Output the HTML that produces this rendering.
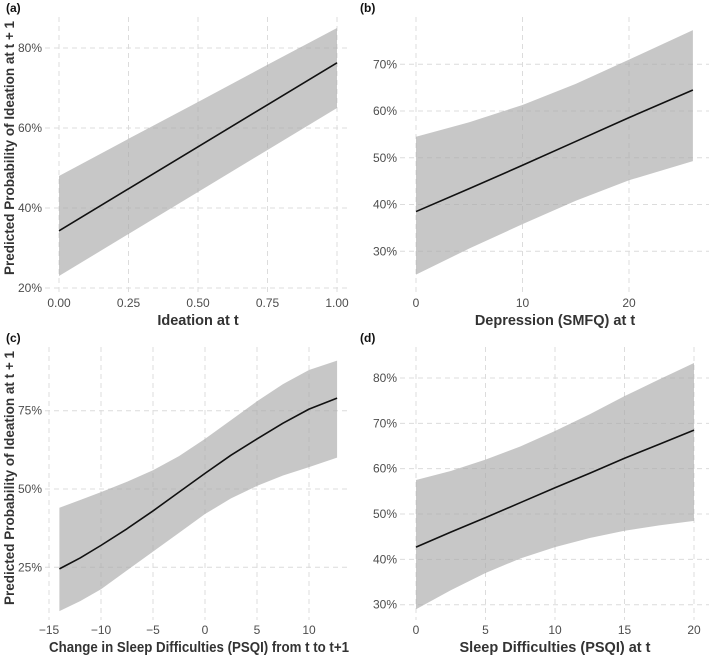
<!DOCTYPE html>
<html><head><meta charset="utf-8"><style>
body{margin:0;background:#fff;font-family:"Liberation Sans",sans-serif}
svg text{font-family:"Liberation Sans",sans-serif}
</style></head><body>
<svg id="c" width="709" height="656" viewBox="0 0 709 656"></svg>
<script>
// Panel (a)
const aX=[0,0.25,0.5,0.75,1];
const aFit=[34.3,44.8,55.3,65.8,76.3];
const aUp=[48,57.3,66.5,75.8,85];
const aLo=[23,33.5,44,54.5,65];
const aXTicks=[0,0.25,0.5,0.75,1];const aXLab=["0.00","0.25","0.50","0.75","1.00"];
const aYTicks=[20,40,60,80];
// Panel (b)
const bX=[0,5,10,15,20,26];
const bFit=[38.5,43.4,48.4,53.5,58.6,64.5];
const bUp=[54.5,57.6,61.3,65.8,71,77.3];
const bLo=[25,30.6,35.8,40.8,45.2,49.3];
const bXTicks=[0,10,20];const bXLab=["0","10","20"];
const bYTicks=[30,40,50,60,70];
// Panel (c)
const cX=[-14,-12,-10,-7.5,-5,-2.5,0,2.5,5,7.5,10,12.7];
const cFit=[24.5,28,32,37.3,43,49,55,60.8,66,71,75.5,79];
const cUp=[44,46.5,49,52.3,56,60.5,66,72,78,83.5,88,91];
const cLo=[11,14.2,18,24,30,36,42,47,51,54.3,57,60];
const cXTicks=[-15,-10,-5,0,5,10];const cXLab=["\u221215","\u221210","\u22125","0","5","10"];
const cYTicks=[25,50,75];
// Panel (d)
const dX=[0,2.5,5,7.5,10,12.5,15,17.5,20];
const dFit=[42.7,46,49.2,52.5,55.8,59,62.3,65.4,68.5];
const dUp=[57.5,59.5,62,64.9,68.3,72,76,79.7,83.3];
const dLo=[29,33.2,37,40.2,42.7,44.7,46.3,47.5,48.5];
const dXTicks=[0,5,10,15,20];const dXLab=["0","5","10","15","20"];
const dYTicks=[30,40,50,60,70,80];

const NS="http://www.w3.org/2000/svg";
const svg=document.getElementById('c');
function mk(tag,attrs,parent){const e=document.createElementNS(NS,tag);for(const k in attrs)e.setAttribute(k,attrs[k]);(parent||svg).appendChild(e);return e;}

function panel(cfg){
  const g=mk('g',{});
  
  
  const sx=v=>cfg.px0+(v-cfg.x0)*(cfg.px1-cfg.px0)/(cfg.x1-cfg.x0);
  const sy=v=>cfg.py0+(v-cfg.y0)*(cfg.py1-cfg.py0)/(cfg.y1-cfg.y0);
  cfg.yT.forEach(t=>{
    const l=mk('line',{x1:cfg.gl,x2:cfg.gr,y1:sy(t),y2:sy(t),stroke:'#dcdcdc','stroke-width':1,'stroke-dasharray':'5,4'},g);
    
    
    const tx=mk('text',{x:cfg.gl-3,y:sy(t)+4,'text-anchor':'end','font-size':12,fill:'#4d4d4d'},g);
    tx.textContent=t+'%';
    
    
  });
  cfg.xT.forEach((t,i)=>{
    const l=mk('line',{x1:sx(t),x2:sx(t),y1:cfg.gt,y2:cfg.gb,stroke:'#dcdcdc','stroke-width':1,'stroke-dasharray':'5,4'},g);
    
    
    const tx=mk('text',{x:sx(t),y:cfg.gb+14,'text-anchor':'middle','font-size':12,fill:'#4d4d4d'},g);
    tx.textContent=cfg.xL[i];
    
    
  });
  let d='';
  cfg.xs.forEach((x,i)=>{d+=(i?'L':'M')+sx(x)+','+sy(cfg.up[i]);});
  for(let i=cfg.xs.length-1;i>=0;i--)d+='L'+sx(cfg.xs[i])+','+sy(cfg.lo[i]);
  const band=mk('path',{d:d+'Z',fill:'#a9a9a9','fill-opacity':0.65},g);
  
  
  const pts=cfg.xs.map((x,i)=>sx(x)+','+sy(cfg.fit[i])).join(' ');
  const line=mk('polyline',{points:pts,fill:'none',stroke:'#111','stroke-width':1.6,'stroke-linejoin':'round'},g);
  
  
  const xa={x:cfg.xtx,y:cfg.gb+32,'text-anchor':'middle','font-size':14.5,'font-weight':'bold',fill:'#333'};
  if(cfg.xtl){xa.textLength=cfg.xtl;xa.lengthAdjust='spacingAndGlyphs';}
  const xt=mk('text',xa,g);
  xt.textContent=cfg.xTitle;
  
  
  const pl=mk('text',{x:cfg.lx,y:cfg.ly,'font-size':12,'font-weight':'bold',fill:'#111'},g);
  pl.textContent=cfg.label;
  
  
  if(cfg.yTitle){
    const yt=mk('text',{x:0,y:0,transform:'translate(14,'+cfg.ytc+') rotate(-90)','text-anchor':'middle','font-size':14,'font-weight':'bold',fill:'#333',textLength:254,lengthAdjust:'spacingAndGlyphs'},g);
    yt.textContent=cfg.yTitle;
    
    
  }
}
const yTitle='Predicted Probability of Ideation at t + 1';
panel({name:'panel-a',label:'(a)',lx:6,ly:12,x0:0,x1:1,px0:59,px1:337,y0:80,y1:20,py0:48,py1:288,gl:45,gr:351,gt:17,gb:293,xs:aX,fit:aFit,up:aUp,lo:aLo,xT:aXTicks,xL:aXLab,yT:aYTicks,xTitle:'Ideation at t',yTitle:yTitle,ytc:148,xtx:198});
panel({name:'panel-b',label:'(b)',lx:360,ly:12,x0:0,x1:20,px0:416,px1:629,y0:70,y1:30,py0:64.3,py1:251.3,gl:400,gr:709,gt:17,gb:293,xs:bX,fit:bFit,up:bUp,lo:bLo,xT:bXTicks,xL:bXLab,yT:bYTicks,xTitle:'Depression (SMFQ) at t',xtx:555});
panel({name:'panel-c',label:'(c)',lx:6,ly:342,x0:-15,x1:10,px0:49,px1:309,y0:75,y1:25,py0:410.7,py1:567.3,gl:45,gr:351,gt:347,gb:620,xs:cX,fit:cFit,up:cUp,lo:cLo,xT:cXTicks,xL:cXLab,yT:cYTicks,xTitle:'Change in Sleep Difficulties (PSQI) from t to t+1',yTitle:yTitle,ytc:478,xtx:199,xtl:300});
panel({name:'panel-d',label:'(d)',lx:360,ly:342,x0:0,x1:20,px0:416,px1:694,y0:80,y1:30,py0:378,py1:604.7,gl:400,gr:709,gt:347,gb:620,xs:dX,fit:dFit,up:dUp,lo:dLo,xT:dXTicks,xL:dXLab,yT:dYTicks,xTitle:'Sleep Difficulties (PSQI) at t',xtx:555});
</script>
</body></html>
